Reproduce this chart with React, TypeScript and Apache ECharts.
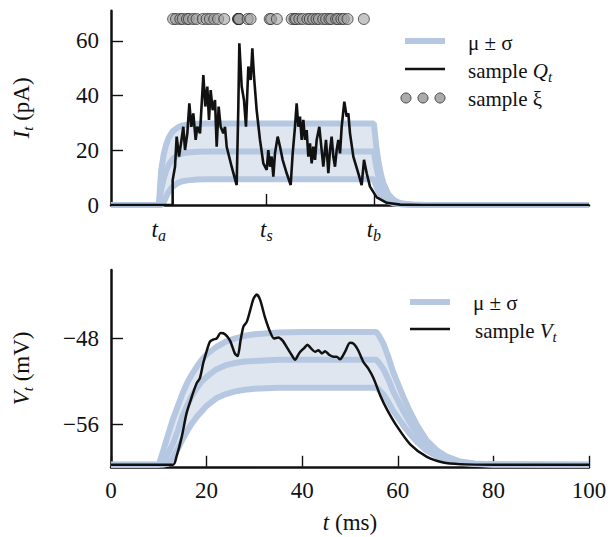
import React, { useEffect, useRef } from "react";
import * as echarts from "echarts";

const SERIF = "Liberation Serif";
const INK = "#111111";
const BAND_LINE = "#b6c8e1";
const BAND_FILL = "#dfe6f0";

// ---------- top panel: input current I_t (pA) ----------
const topTime = [0, 10, 10.5, 11, 11.5, 12, 12.5, 13, 14, 15, 16, 18, 20, 25, 55, 55.5, 56, 56.5, 57, 58, 59, 60, 61, 63, 66, 70, 100];
const topUpper = [0, 0, 12.7, 18.3, 21.9, 24.3, 25.9, 27.1, 28.4, 29.1, 29.4, 29.7, 29.8, 29.8, 29.8, 21.4, 15.3, 11.0, 7.9, 4.0, 2.1, 1.1, 0.55, 0.14, 0.02, 0, 0];
const topMean = [0, 0, 5.6, 9.5, 12.4, 14.4, 15.9, 17.0, 18.2, 18.9, 19.2, 19.5, 19.6, 19.6, 19.6, 14.0, 10.1, 7.2, 5.2, 2.7, 1.4, 0.7, 0.36, 0.09, 0.01, 0, 0];
const topLower = [0, 0, 0, 0.8, 2.9, 4.6, 5.9, 6.8, 8.1, 8.7, 9.0, 9.3, 9.4, 9.4, 9.4, 6.7, 4.8, 3.5, 2.5, 1.3, 0.65, 0.34, 0.17, 0.05, 0, 0, 0];

const sampleQTime = [0, 12.9, 12.9, 13.39, 13.74, 14.23, 14.64, 15.13, 15.48, 15.97, 16.39, 16.81, 17.22, 17.71, 18.06, 18.62, 19.32, 19.73, 20.15, 20.5, 20.85, 21.27, 21.76, 22.11, 22.52, 22.94, 23.5, 23.85, 24.2, 25.24, 26.29, 26.64, 26.85, 27.34, 27.82, 28.24, 28.73, 29.22, 29.57, 29.92, 30.47, 31.17, 31.87, 32.57, 32.91, 33.26, 33.61, 33.96, 34.31, 34.87, 35.36, 35.91, 36.75, 37.59, 38.01, 38.49, 38.84, 39.19, 39.54, 39.89, 40.24, 40.59, 40.93, 41.28, 41.63, 41.98, 42.33, 42.68, 43.03, 43.58, 44.07, 44.42, 44.98, 45.47, 45.82, 46.16, 46.51, 46.86, 47.21, 47.56, 47.91, 48.26, 48.81, 49.3, 49.65, 50.0, 50.7, 51.74, 52.44, 52.93, 53.49, 54.18, 55.6, 57.7, 60.5, 65, 100];
const sampleQ = [0, 0, 9.1, 14.0, 25.0, 17.7, 22.5, 28.6, 20.1, 26.2, 37.2, 28.6, 33.5, 23.8, 28.6, 26.2, 47.5, 36.0, 43.3, 31.1, 42.0, 34.7, 38.4, 21.3, 36.0, 28.6, 26.2, 28.6, 21.3, 14.0, 7.3, 36.0, 59.1, 43.3, 38.4, 28.6, 50.6, 45.7, 57.3, 46.9, 34.7, 23.8, 15.2, 12.8, 20.1, 14.0, 17.7, 10.4, 18.9, 25.0, 21.3, 16.5, 11.6, 7.3, 18.9, 28.6, 37.2, 28.6, 32.3, 23.8, 31.1, 23.8, 27.4, 17.7, 22.5, 15.2, 21.3, 16.5, 23.8, 28.6, 20.1, 14.0, 23.8, 11.6, 20.1, 25.0, 17.7, 14.0, 20.1, 23.8, 18.9, 28.6, 37.8, 32.3, 33.5, 26.2, 17.7, 11.6, 7.3, 16.5, 11.6, 6.7, 2.8, 0.8, 0.15, 0, 0];

const spikeTimes = [13.0, 13.6, 14.5, 15.0, 15.9, 16.3, 17.2, 17.9, 19.2, 20.0, 20.7, 21.6, 22.4, 23.7, 26.6, 26.6, 26.7, 26.8, 26.8, 28.6, 29.2, 33.2, 33.5, 34.7, 37.8, 38.4, 38.7, 39.4, 40.1, 41.1, 41.6, 42.3, 43.0, 43.5, 44.4, 45.0, 45.7, 46.1, 47.1, 47.5, 48.2, 48.7, 49.5, 52.9];
const spikeLevel = 68;

const topXTicks = [10, 32.5, 55];
const topXTickNames = ["a", "s", "b"];
const topYTicks = [0, 20, 40, 60];

// ---------- bottom panel: membrane potential V_t (mV) ----------
const botTime = [0, 10, 11, 12, 13, 14, 15, 16, 17, 18, 19, 20, 22, 24, 26, 28, 30, 35, 40, 55.5, 56, 57, 58, 59, 60, 61, 62.5, 64, 66, 68, 70, 73, 76, 80, 100];
const botUpper = [-59.8, -59.8, -58.4, -56.9, -55.5, -54.3, -53.1, -52.1, -51.3, -50.6, -50.0, -49.5, -48.8, -48.3, -48.0, -47.75, -47.6, -47.45, -47.4, -47.4, -47.7, -48.5, -49.7, -51.1, -52.2, -53.3, -54.8, -56.1, -57.5, -58.4, -59.0, -59.5, -59.7, -59.78, -59.8];
const botMean = [-59.8, -59.8, -59.5, -58.7, -57.8, -56.6, -55.2, -54.2, -53.3, -52.6, -52.0, -51.6, -50.9, -50.5, -50.3, -50.15, -50.1, -50.0, -50.0, -50.0, -50.24, -50.87, -51.81, -52.92, -53.79, -54.66, -55.85, -56.88, -57.99, -58.69, -59.16, -59.56, -59.72, -59.78, -59.8];
const botLower = [-59.8, -59.8, -59.8, -59.7, -59.1, -58.3, -57.4, -56.6, -55.9, -55.3, -54.8, -54.3, -53.6, -53.2, -52.95, -52.8, -52.7, -52.6, -52.6, -52.6, -52.77, -53.24, -53.93, -54.75, -55.39, -56.03, -56.9, -57.65, -58.47, -58.99, -59.33, -59.63, -59.74, -59.79, -59.8];

const sampleVTime = [0, 13.0, 13.7, 14.8, 15.8, 16.9, 17.9, 18.6, 19.3, 20.0, 20.7, 21.4, 22.1, 22.95, 23.85, 24.9, 25.9, 26.5, 27.1, 27.7, 28.4, 29.1, 29.8, 30.5, 31.2, 32.2, 33.3, 34.1, 35.0, 35.9, 36.9, 37.8, 38.5, 39.4, 40.4, 41.1, 41.8, 42.7, 43.4, 44.1, 44.8, 45.7, 46.5, 47.2, 47.9, 48.95, 50.0, 50.8, 51.7, 52.8, 53.8, 54.9, 56.3, 57.7, 59.8, 62.6, 66.0, 69.5, 73, 80, 100];
const sampleV = [-59.8, -59.8, -59.05, -57.2, -55.0, -53.45, -52.2, -51.7, -50.3, -49.2, -48.3, -48.1, -48.0, -47.5, -47.6, -48.2, -49.4, -49.65, -48.2, -46.9, -46.45, -45.4, -44.3, -43.9, -44.4, -46.0, -47.4, -48.0, -47.9, -48.2, -48.9, -49.55, -50.0, -49.35, -48.9, -48.6, -48.9, -49.25, -49.1, -49.4, -49.2, -49.55, -49.7, -49.7, -49.95, -49.25, -48.4, -48.5, -49.1, -50.2, -50.8, -51.7, -53.3, -54.6, -56.2, -57.9, -59.05, -59.6, -59.75, -59.8, -59.8];

const botYTicks = [-56, -48];
const xTicks = [0, 20, 40, 60, 80, 100];

const zip = (xs: number[], ys: number[]) => xs.map((x, i) => [x, ys[i]]);

const rich = (size: number, sub: number, drop: number) => ({
  i: { fontFamily: SERIF, fontSize: size, fontStyle: "italic", color: INK },
  n: { fontFamily: SERIF, fontSize: size, color: INK },
  s: { fontFamily: SERIF, fontSize: sub, fontStyle: "italic", color: INK, padding: [drop, 0, 0, 0] },
});

const fmtNum = (v: number) => (v < 0 ? "\u2212" + Math.abs(v) : String(v));

function bandSeries(xi: number, t: number[], up: number[], mid: number[], lo: number[]) {
  const line = (d: number[], name: string) => ({
    type: "line",
    name,
    xAxisIndex: xi,
    yAxisIndex: xi,
    data: zip(t, d),
    showSymbol: false,
    symbol: "none",
    lineStyle: { color: BAND_LINE, width: 6 },
    z: 3,
    silent: true,
  });
  return [
    {
      type: "custom",
      xAxisIndex: xi,
      yAxisIndex: xi,
      clip: true,
      silent: true,
      z: 1,
      data: [[t[0], mid[0]]],
      renderItem: (_p: any, api: any) => {
        const pts: number[][] = [];
        for (let k = 0; k < t.length; k++) pts.push(api.coord([t[k], up[k]]));
        for (let k = t.length - 1; k >= 0; k--) pts.push(api.coord([t[k], lo[k]]));
        return { type: "polygon", shape: { points: pts }, style: { fill: BAND_FILL } };
      },
    },
    line(up, "up" + xi),
    line(mid, "mid" + xi),
    line(lo, "lo" + xi),
  ];
}

const axisLine = { show: true, onZero: false, lineStyle: { color: INK, width: 2.5 } };
const tickStyle = { color: INK, width: 1.4 };
const labelBase = { color: INK, fontFamily: SERIF, fontSize: 23 };

export default function App() {
  const ref = useRef<HTMLDivElement>(null);
  useEffect(() => {
    if (!ref.current) return;
    const chart = echarts.init(ref.current, null, { renderer: "svg" });
    const legendText = (x: number, y: number, text: string) => ({
      type: "text",
      x,
      y,
      style: {
        text,
        fontFamily: SERIF,
        fontSize: 21,
        fill: INK,
        verticalAlign: "middle",
        rich: rich(21, 15, 12),
      },
    });
    const option: any = {
      animation: false,
      backgroundColor: "#ffffff",
      textStyle: { fontFamily: SERIF },
      grid: [
        { left: 111, right: 19, top: 10.8, bottom: 332, containLabel: false, outerBoundsMode: "none" },
        { left: 111, right: 19, top: 270, bottom: 70.2, containLabel: false, outerBoundsMode: "none" },
      ],
      xAxis: [
        {
          type: "value",
          gridIndex: 0,
          min: 0,
          max: 100,
          axisLine,
          splitLine: { show: false },
          axisTick: { show: true, inside: true, length: 11, lineStyle: tickStyle, customValues: topXTicks },
          axisLabel: {
            ...labelBase,
            margin: 10,
            customValues: topXTicks,
            formatter: (v: number) => `{i|t}{s|${topXTickNames[topXTicks.indexOf(v)]}}`,
            rich: rich(23, 16, 12),
          },
        },
        {
          type: "value",
          gridIndex: 1,
          min: 0,
          max: 100,
          axisLine,
          splitLine: { show: false },
          axisTick: { show: true, inside: true, length: 11, lineStyle: tickStyle, customValues: xTicks },
          axisLabel: { ...labelBase, margin: 12, customValues: xTicks, formatter: fmtNum },
          name: "{i|t}{n| (ms)}",
          nameLocation: "middle",
          nameGap: 44,
          nameTextStyle: { ...labelBase, rich: rich(23, 15, 12) },
        },
      ],
      yAxis: [
        {
          type: "value",
          gridIndex: 0,
          min: 0,
          max: 71,
          axisLine,
          splitLine: { show: false },
          axisTick: { show: true, inside: true, length: 12, lineStyle: tickStyle, customValues: topYTicks },
          axisLabel: { ...labelBase, margin: 12, customValues: topYTicks, formatter: fmtNum },
          name: "{i|I}{s|t}{n| (pA)}",
          nameLocation: "middle",
          nameRotate: 90,
          nameGap: 76,
          nameTextStyle: { ...labelBase, rich: rich(23, 15, 12) },
        },
        {
          type: "value",
          gridIndex: 1,
          min: -60,
          max: -41.6,
          axisLine,
          splitLine: { show: false },
          axisTick: { show: true, inside: true, length: 12, lineStyle: tickStyle, customValues: botYTicks },
          axisLabel: { ...labelBase, margin: 12, customValues: botYTicks, formatter: fmtNum },
          name: "{i|V}{s|t}{n| (mV)}",
          nameLocation: "middle",
          nameRotate: 90,
          nameGap: 76,
          nameTextStyle: { ...labelBase, rich: rich(23, 15, 12) },
        },
      ],
      series: [
        ...bandSeries(0, topTime, topUpper, topMean, topLower),
        {
          type: "line",
          name: "sample Q",
          xAxisIndex: 0,
          yAxisIndex: 0,
          data: zip(sampleQTime, sampleQ),
          showSymbol: false,
          symbol: "none",
          lineStyle: { color: INK, width: 2.6 },
          z: 5,
        },
        {
          type: "scatter",
          name: "sample xi",
          xAxisIndex: 0,
          yAxisIndex: 0,
          data: spikeTimes.map((t) => [t, spikeLevel]),
          symbol: "circle",
          symbolSize: 11,
          itemStyle: { color: "rgba(160,160,160,0.75)", borderColor: "rgba(30,30,30,0.85)", borderWidth: 1 },
          z: 6,
        },
        ...bandSeries(1, botTime, botUpper, botMean, botLower),
        {
          type: "line",
          name: "sample V",
          xAxisIndex: 1,
          yAxisIndex: 1,
          data: zip(sampleVTime, sampleV),
          showSymbol: false,
          symbol: "none",
          smooth: 0.25,
          lineStyle: { color: INK, width: 2.5 },
          z: 5,
        },
      ],
      graphic: [
        { type: "line", shape: { x1: 405, y1: 41, x2: 445, y2: 41 }, style: { stroke: BAND_LINE, lineWidth: 6 } },
        legendText(468, 43, "{n|\u03bc \u00b1 \u03c3}"),
        { type: "line", shape: { x1: 405, y1: 69, x2: 445, y2: 69 }, style: { stroke: INK, lineWidth: 2.5 } },
        legendText(468, 71, "{n|sample }{i|Q}{s|t}"),
        { type: "circle", shape: { cx: 406, cy: 98, r: 5 }, style: { fill: "#ababab", stroke: "#444", lineWidth: 1 } },
        { type: "circle", shape: { cx: 423, cy: 98, r: 5 }, style: { fill: "#ababab", stroke: "#444", lineWidth: 1 } },
        { type: "circle", shape: { cx: 440, cy: 98, r: 5 }, style: { fill: "#ababab", stroke: "#444", lineWidth: 1 } },
        legendText(468, 99, "{n|sample \u03be}"),
        { type: "line", shape: { x1: 410, y1: 302, x2: 450, y2: 302 }, style: { stroke: BAND_LINE, lineWidth: 6 } },
        legendText(473, 303, "{n|\u03bc \u00b1 \u03c3}"),
        { type: "line", shape: { x1: 410, y1: 329, x2: 450, y2: 329 }, style: { stroke: INK, lineWidth: 2.5 } },
        legendText(475, 331, "{n|sample }{i|V}{s|t}"),
      ],
    };
    chart.setOption(option);
    return () => chart.dispose();
  }, []);
  return (
    <div
      ref={ref}
      style={{ position: "fixed", left: 0, top: 0, width: 608, height: 537, background: "#fff" }}
    />
  );
}
